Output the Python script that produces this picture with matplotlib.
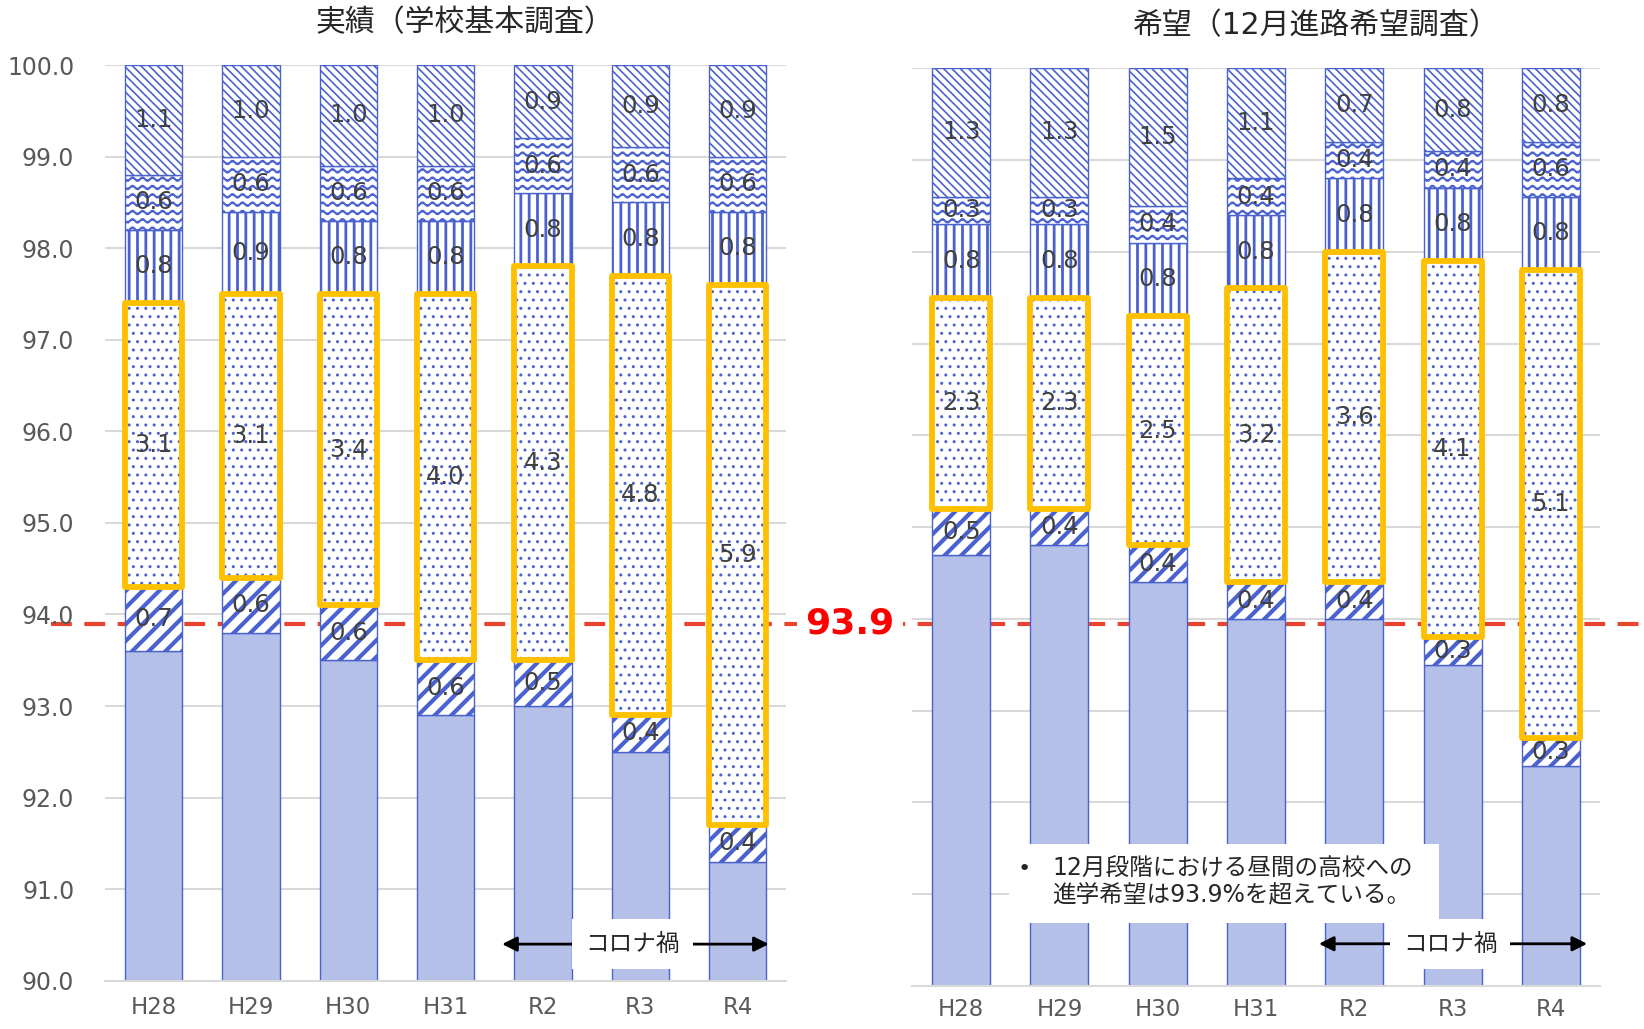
import matplotlib
matplotlib.use('Agg')
import matplotlib.pyplot as plt
import matplotlib.transforms as mtrans
from matplotlib import hatch as mhatch
from matplotlib.lines import Line2D
from matplotlib.patches import Rectangle
from matplotlib.path import Path
import numpy as np

plt.rcParams['font.family'] = ['DejaVu Sans', 'Noto Sans CJK JP']

# データ
years = ['H28', 'H29', 'H30', 'H31', 'R2', 'R3', 'R4']
total = 100.0

# 実績（学校基本調査）
jis_s1 = [93.6, 93.8, 93.5, 92.9, 93.0, 92.5, 91.3]
jis_s2 = [0.7, 0.6, 0.6, 0.6, 0.5, 0.4, 0.4]
jis_s3 = [3.1, 3.1, 3.4, 4.0, 4.3, 4.8, 5.9]
jis_s4 = [0.8, 0.9, 0.8, 0.8, 0.8, 0.8, 0.8]
jis_s5 = [0.6, 0.6, 0.6, 0.6, 0.6, 0.6, 0.6]
jis_s6 = [1.1, 1.0, 1.0, 1.0, 0.9, 0.9, 0.9]

# 希望（12月進路希望調査）
kib_s1 = [94.7, 94.8, 94.4, 94.0, 94.0, 93.5, 92.4]
kib_s2 = [0.5, 0.4, 0.4, 0.4, 0.4, 0.3, 0.3]
kib_s3 = [2.3, 2.3, 2.5, 3.2, 3.6, 4.1, 5.1]
kib_s4 = [0.8, 0.8, 0.8, 0.8, 0.8, 0.8, 0.8]
kib_s5 = [0.3, 0.3, 0.4, 0.4, 0.4, 0.4, 0.6]
kib_s6 = [1.3, 1.3, 1.5, 1.1, 0.7, 0.8, 0.8]

target = 93.9

BLUE = '#4A62CF'
LIGHT = '#B5C0E8'
YELLOW = '#FFC000'
GRID = '#D9D9D9'
TXT = '#404040'


# 波線ハッチ（'~'）
class WaveHatch(mhatch.HatchPatternBase):
    npts = 61

    def __init__(self, hatch, density):
        self.num_lines = int(hatch.count('~') * density)
        self.num_vertices = self.num_lines * self.npts

    def set_vertices_and_codes(self, vertices, codes):
        t = np.linspace(0, 1, self.npts)
        n = self.num_lines
        periods = max(1, round(n * 0.8))
        for i in range(n):
            sl = slice(i * self.npts, (i + 1) * self.npts)
            vertices[sl, 0] = t
            vertices[sl, 1] = (i + 0.5) / n + 0.22 / n * np.sin(2 * np.pi * periods * t)
            codes[sl] = Path.LINETO
            codes[i * self.npts] = Path.MOVETO


mhatch._hatch_types.append(WaveHatch)

fig = plt.figure(figsize=(16.44, 10.29), dpi=100)
ax1 = fig.add_axes([0.0638, 0.0469, 0.4145, 0.8899])
ax2 = fig.add_axes([0.5548, 0.0418, 0.4184, 0.8919])


def draw_chart(ax, segs, title, title_x, show_ylabels, xpad):
    x = np.arange(len(years))
    w = 0.59
    styles = [
        dict(color=LIGHT, hatch=None, hlw=1.0),
        dict(color='white', hatch='//', hlw=3.0),
        dict(color='white', hatch='..', hlw=1.0),
        dict(color='white', hatch='||', hlw=2.0),
        dict(color='white', hatch='~~', hlw=1.5),
        dict(color='white', hatch='\\\\\\\\', hlw=1.2),
    ]
    bottom = np.zeros(len(years))
    for k, (vals, st) in enumerate(zip(segs, styles)):
        vals = np.array(vals)
        # 最上段は100%まで
        heights = total - bottom if k == len(segs) - 1 else vals
        with plt.rc_context({'hatch.linewidth': st['hlw']}):
            ax.bar(x, heights, w, bottom=bottom, color=st['color'], edgecolor=BLUE,
                   linewidth=1.0, hatch=st['hatch'], zorder=2)
        if k == 2:
            ax.bar(x, heights, w, bottom=bottom, fill=False, edgecolor=YELLOW,
                   linewidth=4.2, joinstyle='round', zorder=3)
        for xi, b, h, v in zip(x, bottom, heights, vals):
            ax.text(xi, b + h / 2, f'{v:.1f}', ha='center', va='center',
                    fontsize=17.5, color=TXT, zorder=4)
        bottom = bottom + heights

    ax.set_xlim(-0.5, len(years) - 0.5)
    ax.set_ylim(90, 100)
    ax.set_yticks(np.arange(90, 100.1, 1))
    ax.yaxis.grid(True, color=GRID, linewidth=1.5, zorder=0)
    ax.set_axisbelow(True)
    ax.set_xticks(x)
    ax.set_xticklabels(years, fontsize=16.5, color='#595959')
    if show_ylabels:
        ax.set_yticklabels([f'{v:.1f}' for v in np.arange(90, 100.1, 1)],
                           fontsize=17, color='#595959')
    else:
        ax.set_yticklabels([])
    ax.tick_params(axis='x', length=0, pad=xpad)
    ax.tick_params(axis='y', length=0, pad=22)
    for s in ['top', 'right', 'left']:
        ax.spines[s].set_visible(False)
    ax.spines['bottom'].set_color(GRID)
    ax.spines['bottom'].set_linewidth(1.5)
    ax.patch.set_visible(False)
    ax.text(title_x, 1.046, title, transform=ax.transAxes, ha='center', va='center',
            fontsize=21.5, color='#262626')


draw_chart(ax1, [jis_s1, jis_s2, jis_s3, jis_s4, jis_s5, jis_s6],
           '実績（学校基本調査）', 0.528, True, 11)
draw_chart(ax2, [kib_s1, kib_s2, kib_s3, kib_s4, kib_s5, kib_s6],
           '希望（12月進路希望調査）', 0.587, False, 9)

# 93.9 の基準線
tr = mtrans.blended_transform_factory(fig.transFigure, ax1.transData)
fig.add_artist(Line2D([0.031, 1.0], [target, target], transform=tr,
                      color='#E8432E', linewidth=3, dashes=(5, 3), zorder=-1))
fig.text(0.517, target, f'{target:.1f}', transform=tr, ha='center', va='center',
         fontsize=26, fontweight='bold', color='#FF0000', zorder=5,
         bbox=dict(boxstyle='square,pad=0.22', fc='white', ec='none'))

# コロナ禍
for ax, x0, x1, y in [(ax1, 3.58, 6.32, 90.4), (ax2, 3.64, 6.37, 90.46)]:
    ax.annotate('', xy=(x0, y), xytext=(x1, y),
                arrowprops=dict(arrowstyle='<|-|>', color='black', lw=2,
                                mutation_scale=22, shrinkA=0, shrinkB=0),
                zorder=6)
    ax.text((x0 + x1) / 2 - 0.03, y, 'コロナ禍', ha='center', va='center',
            fontsize=17, color='#262626', zorder=7,
            bbox=dict(boxstyle='square,pad=0.55', fc='white', ec='none'))

# 注記
ax2.add_patch(Rectangle((0.49, 90.69), 4.37, 0.86, fc='white', ec='none', zorder=6))
ax2.text(0.57, 91.27, '•', ha='left', va='center', fontsize=16,
         color='#262626', zorder=7)
ax2.text(0.93, 91.14, '12月段階における昼間の高校への\n進学希望は93.9%を超えている。',
         ha='left', va='center', fontsize=17, color='#262626', zorder=7,
         linespacing=1.1)

fig.savefig('out.png', dpi=100)
